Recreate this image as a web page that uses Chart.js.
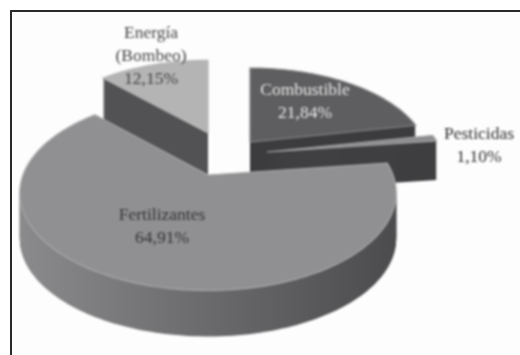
<!DOCTYPE html>
<html>
<head>
<meta charset="utf-8">
<title>Energía</title>
<script src="https://cdn.jsdelivr.net/npm/chart.js@4/dist/chart.umd.min.js"></script>
<style>
	html, body {margin: 0; padding: 0; background: #ffffff; overflow: hidden;}
	#page {position: absolute; left: 0; top: 0; width: 520px; height: 355px; overflow: hidden;}
	#frame {position: absolute; left: 10px; top: 10px; width: 520px; height: 360px; background: #fdfdfd; border-left: 2px solid #2a2a2a; border-top: 2px solid #2a2a2a;}
	#pie-chart {position: absolute; left: 0; top: 0; filter: blur(0.8px);}
</style>
</head>
<body>
<div id="page">
	<div id="frame"></div>
	<canvas id="pie-chart" width="520" height="355"></canvas>
</div>
<script>
const categories = ["Combustible", "Pesticidas", "Fertilizantes", "Energía (Bombeo)"];
const shares = [21.84, 1.10, 64.91, 12.15];

// slices
const top_colors = ["#5e5e60", "#8c8c8e", "#909092", "#b4b4b4"];
const edge_colors = ["#858587", "#a4a4a6", "#a9a9ab", "#b4b4b4"];
const wall_colors = [
	["#3c3c3e", "#3c3c3e"],
	["#444446", "#3e3e40"],
	["#8a8a8c", "#6a6a6c", "#4c4c4e"],
	["#525254", "#525254"]
];
const draw_order = [3, 0, 1, 2];

// where each slice sits once exploded: apex on screen, size and thickness
const apex_x = [250, 267, 208, 208];
const apex_y = [142, 152, 175, 133];
const sizes = [175, 175, 185, 172];
const depths = [44, 39, 46, 42];
const tilts = [0.5, 0.5, 0.51, 0.5];
const perspective = 0.183;

// labels
const label_lines = [["Combustible"], ["Pesticidas"], ["Fertilizantes"], ["Energía", "(Bombeo)"]];
const label_x = [305, 479, 162, 151];
const label_y = [90, 134, 215, 33];
const label_colors = ["#e8e8e8", "#2e2e30", "#343436", "#444446"];
const line_height = 23;

function slice_path(ctx, arc, i, shift) {
	// angles come from chart.js, measured here clockwise from north
	const start = arc.startAngle + Math.PI / 2;
	const end = arc.endAngle + Math.PI / 2;
	const steps = Math.max(4, Math.ceil((end - start) * 40));
	ctx.beginPath();
	ctx.moveTo(apex_x[i], apex_y[i] + shift);
	for (let s = 0; s <= steps; s++) {
		const a = start + (end - start) * s / steps;
		const w = 1 + perspective * Math.cos(a);
		ctx.lineTo(apex_x[i] + sizes[i] * Math.sin(a) / w, apex_y[i] + shift - sizes[i] * tilts[i] * Math.cos(a) / w);
	}
	ctx.closePath();
}

function wall_fill(ctx, i) {
	const grad = ctx.createLinearGradient(apex_x[i] - sizes[i], 0, apex_x[i] + sizes[i], 0);
	wall_colors[i].forEach((c, n) => grad.addColorStop(n / (wall_colors[i].length - 1), c));
	return grad;
}

const pie_3d = {
	id: "pie_3d",
	beforeDatasetsDraw(chart) {
		const ctx = chart.ctx;
		const arcs = chart.getDatasetMeta(0).data;
		ctx.save();
		for (const i of draw_order) {
			ctx.fillStyle = wall_fill(ctx, i);
			for (let shift = depths[i]; shift > 0; shift--) {
				slice_path(ctx, arcs[i], i, shift);
				ctx.fill();
			}
			slice_path(ctx, arcs[i], i, 0);
			ctx.fillStyle = arcs[i].options.backgroundColor;
			ctx.fill();
			ctx.strokeStyle = arcs[i].options.borderColor;
			ctx.lineWidth = 1.2;
			ctx.stroke();
		}
		ctx.restore();
		return false;
	},
	afterDraw(chart) {
		const ctx = chart.ctx;
		ctx.save();
		ctx.font = "17.5px 'Liberation Serif'";
		ctx.textAlign = "center";
		ctx.textBaseline = "middle";
		categories.forEach((name, i) => {
			const lines = label_lines[i].concat(shares[i].toFixed(2).replace(".", ",") + "%");
			ctx.fillStyle = label_colors[i];
			lines.forEach((line, n) => ctx.fillText(line, label_x[i], label_y[i] + n * line_height));
		});
		ctx.restore();
	}
};

new Chart(document.getElementById("pie-chart"), {
	type: "pie",
	data: {
		labels: categories,
		datasets: [{
			data: shares,
			backgroundColor: top_colors,
			borderColor: edge_colors
		}]
	},
	options: {
		responsive: false,
		animation: false,
		rotation: 0,
		plugins: {
			legend: {display: false},
			tooltip: {enabled: false}
		}
	},
	plugins: [pie_3d]
});
</script>
</body>
</html>
